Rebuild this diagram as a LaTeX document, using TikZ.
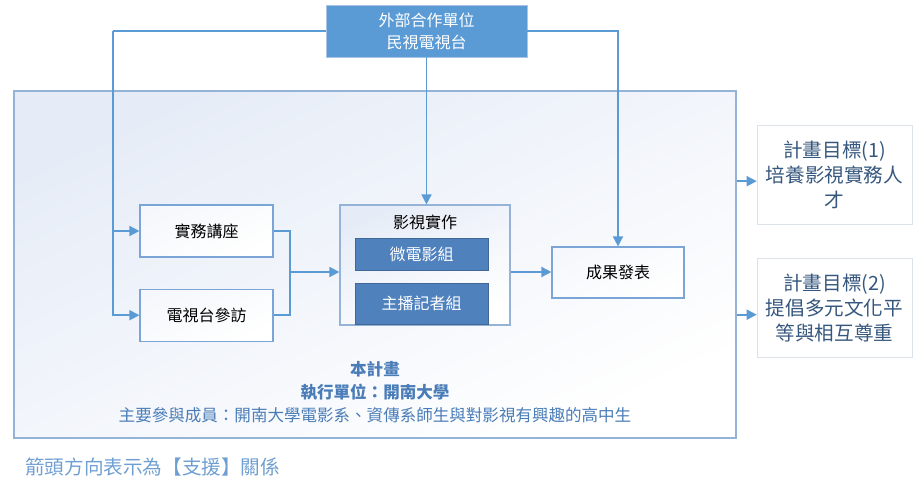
\documentclass[tikz,border=0pt]{standalone}
\usepackage{fontspec}
\setmainfont{Noto Sans CJK TC}
\usetikzlibrary{arrows.meta, positioning, shadows}
\definecolor{azulLinea}{HTML}{5B9BD5}
\definecolor{azulOscuro}{HTML}{4F81BD}
\definecolor{bordeExt}{HTML}{A9C4E6}
\definecolor{bordeMarco}{HTML}{95B3D7}
\definecolor{fondoMarco}{HTML}{E6ECF7}
\definecolor{bordeAct}{HTML}{7AA5D6}
\definecolor{bordeMeta}{HTML}{DCE2EA}
\definecolor{textoMeta}{HTML}{36577D}
\definecolor{textoPlan}{HTML}{4A7DB8}
\definecolor{textoNota}{HTML}{6F9FD2}

\begin{document}
\begin{tikzpicture}[x=0.75pt, y=-0.75pt,
        node distance=23.25pt and 30pt,
        ext/.style={draw=bordeExt, fill=azulLinea, text=white, align=center,
            minimum width=150.75pt, minimum height=39pt, font=\fontsize{12}{16.5}\selectfont},
        marco/.style={draw=bordeMarco, line width=1pt, top color=fondoMarco, bottom color=white,
            shading angle=25},
        act/.style={draw=bordeAct, line width=0.9pt, top color=fondoMarco!40, bottom color=white,
            shading angle=25, minimum width=99.75pt, minimum height=39pt,
            font=\fontsize{12}{14}\selectfont},
        grupo/.style={draw=azulOscuro!80!black, fill=azulOscuro, text=white,
            minimum width=99.75pt, font=\fontsize{12}{14}\selectfont,
            drop shadow={opacity=0.2, shadow xshift=1pt, shadow yshift=-1pt}},
        meta/.style={draw=bordeMeta, fill=white, text=textoMeta, align=center,
            minimum width=116.25pt, minimum height=74.25pt, font=\fontsize{14.7}{18.8}\selectfont},
        linea/.style={azulLinea, line width=1.3pt},
        rel/.style={linea, -{Triangle[length=7.5pt, width=7.5pt]}}
    ]
        \useasboundingbox (0,0) rectangle (924,482);

        % marco del plan
        \node[marco, minimum width=541.5pt, minimum height=260.25pt] (plan) at (375,264.5) {};
        \node[ext] (top) at (426.5,31) {外部合作單位\\民視電視台};

        % actividades
        \node[act] (lect) at (206.5,231) {實務講座};
        \node[act, below=of lect] (visit) {電視台參訪};
        \node[marco, line width=0.9pt, minimum width=127.5pt, minimum height=90pt] (prod) at (425,265) {};
        \node[font=\fontsize{12}{14}\selectfont, inner sep=0pt, below=8pt of prod.north] (prodt) {影視實作};
        \node[grupo, minimum height=24pt] (film) at (421.5,254) {微電影組};
        \node[grupo, minimum height=30.75pt] (anchor) at (421.5,303.5) {主播記者組};
        \node[act, minimum width=99pt, minimum height=38.25pt] (result) at (618,272.5) {成果發表};

        % metas
        \node[meta] (goal1) at (834.5,174.5) {計畫目標(1)\\培養影視實務人\\才};
        \node[meta] (goal2) at (834.5,308) {計畫目標(2)\\提倡多元文化平\\等與相互尊重};

        % textos
        \node[text=textoPlan, align=center, font=\fontsize{12.4}{17}\selectfont] (info) at (375,392)
            {\textbf{本計畫}\\\textbf{執行單位：開南大學}\\主要參與成員：開南大學電影系、資傳系師生與對影視有興趣的高中生};
        \node[text=textoNota, anchor=west, inner sep=0pt, font=\fontsize{14.7}{17}\selectfont] (nota) at (25,467)
            {箭頭方向表示為【支援】關係};

        % conectores
        \coordinate (lbus) at (113,31);
        \coordinate (join) at (290,272);
        \draw[linea] (top.west) -- (lbus);
        \draw[rel] (lbus) |- (lect.west);
        \draw[rel] (lbus) |- (visit.west);
        \draw[rel] (top.south) -- (top.south |- prod.north);
        \draw[rel] (top.east) -| (result.north);
        \draw[linea] (lect.east) -| (join);
        \draw[linea] (visit.east) -| (join);
        \draw[rel] (join) -- (join -| prod.west);
        \draw[rel] (join -| prod.east) -- (join -| result.west);
        \draw[rel] ([yshift=-5pt]goal1.west -| plan.east) -- ([yshift=-5pt]goal1.west);
        \draw[rel] ([yshift=-5pt]goal2.west -| plan.east) -- ([yshift=-5pt]goal2.west);
    \end{tikzpicture}
\end{document}
